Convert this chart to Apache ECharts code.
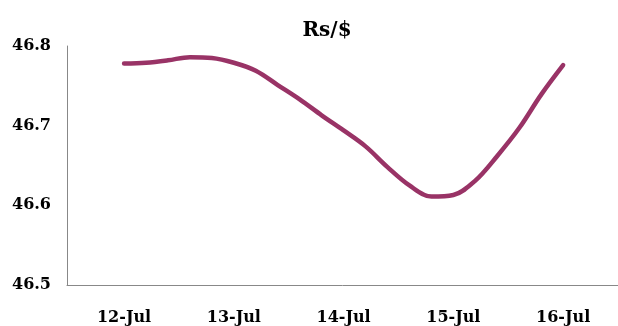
<!DOCTYPE html>
<html>
<head>
<meta charset="utf-8">
<script src="https://cdn.jsdelivr.net/npm/echarts@6/dist/echarts.min.js"></script>
<style>
  html, body { margin: 0; padding: 0; background: #ffffff; }
  #chart { width: 618px; height: 326px; }
</style>
</head>
<body>
<div id="chart"></div>
<script>
// Day labels on the x axis (positions 0..4)
const dayLabels = ['12-Jul', '13-Jul', '14-Jul', '15-Jul', '16-Jul'];
const dayPositions = [0, 1, 2, 3, 4];

// Observation times (in days from 12-Jul) and the Rs/$ rate at each
const obsTimes = [0, 0.2, 0.4, 0.6, 0.8, 1.0, 1.2, 1.4, 1.6, 1.8, 2.0,
                  2.2, 2.4, 2.6, 2.8, 3.0, 3.2, 3.4, 3.6, 3.8, 4.0];
const rates = [46.778, 46.779, 46.782, 46.786, 46.785, 46.779, 46.769, 46.751, 46.733, 46.713, 46.694,
               46.674, 46.648, 46.625, 46.611, 46.613, 46.631, 46.662, 46.697, 46.739, 46.776];

// Value-axis ticks
const yTicks = [46.5, 46.6, 46.7, 46.8];

const labelFont = {
  fontFamily: 'DejaVu Serif',
  fontWeight: 'bold',
  fontSize: 16,
  color: '#000000'
};

const chart = echarts.init(document.getElementById('chart'), null, { renderer: 'canvas' });

chart.setOption({
  animation: false,
  title: {
    text: 'Rs/$',
    left: 322,
    top: 16,
    textAlign: 'center',
    textStyle: {
      fontFamily: 'DejaVu Serif',
      fontWeight: 'bold',
      fontSize: 20,
      color: '#000000'
    }
  },
  grid: {
    left: 67,
    top: 46,
    width: 551,
    height: 241,
    containLabel: false
  },
  xAxis: {
    type: 'value',
    min: -0.52,
    max: 4.5,
    splitLine: { show: false },
    axisTick: { show: false },
    axisLine: { show: true, onZero: false, lineStyle: { color: '#888888', width: 1 } },
    axisLabel: Object.assign({
      margin: 25,
      customValues: dayPositions,
      formatter: v => dayLabels[Math.round(v)]
    }, labelFont)
  },
  yAxis: {
    type: 'value',
    min: yTicks[0],
    max: yTicks[yTicks.length - 1],
    interval: 0.1,
    splitLine: { show: false },
    axisTick: { show: false },
    axisLine: { show: true, onZero: false, lineStyle: { color: '#888888', width: 1 } },
    axisLabel: Object.assign({
      margin: 16,
      formatter: v => v.toFixed(1)
    }, labelFont)
  },
  series: [{
    type: 'line',
    data: obsTimes.map((t, i) => [t, rates[i]]),
    smooth: 0.35,
    showSymbol: false,
    lineStyle: { color: '#993366', width: 4.5, cap: 'round', join: 'round' }
  }]
});
</script>
</body>
</html>
